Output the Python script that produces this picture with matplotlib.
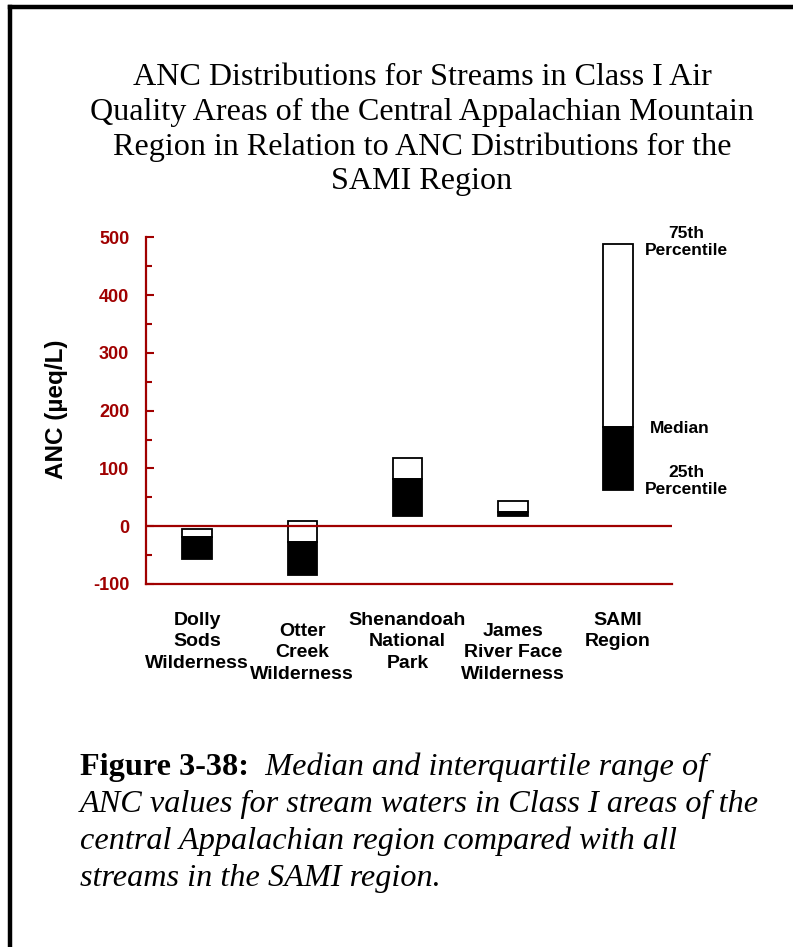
import matplotlib
matplotlib.use("Agg")
import matplotlib.pyplot as plt
from matplotlib.lines import Line2D
from matplotlib.ticker import MultipleLocator

plt.rcParams["axes.unicode_minus"] = False

# ---- data ----
categories = ["Dolly\nSods\nWilderness", "Otter\nCreek\nWilderness",
              "Shenandoah\nNational\nPark", "James\nRiver Face\nWilderness",
              "SAMI\nRegion"]
p25 = [-57, -85, 17, 18, 62]
median = [-18, -28, 81, 25, 171]
p75 = [-5, 9, 118, 43, 488]
yticks = [-100, 0, 100, 200, 300, 400, 500]

title = ("ANC Distributions for Streams in Class I Air\n"
         "Quality Areas of the Central Appalachian Mountain\n"
         "Region in Relation to ANC Distributions for the\n"
         "SAMI Region")
cap_bold = "Figure 3-38:"
cap_lines = ["  Median and interquartile range of",
             "ANC values for stream waters in Class I areas of the",
             "central Appalachian region compared with all",
             "streams in the SAMI region."]

RED = "#A00000"
W, H = 793, 947
fig = plt.figure(figsize=(W / 100, H / 100), dpi=100)


def fx(x):
    return x / W


def fy(y):
    return 1 - y / H


# border (left and top only)
fig.add_artist(Line2D([fx(10.3), fx(10.3)], [fy(7), fy(H + 5)], color="black", lw=3.2,
                      transform=fig.transFigure, solid_capstyle="projecting"))
fig.add_artist(Line2D([fx(10.3), fx(W + 5)], [fy(7), fy(7)], color="black", lw=3.2,
                      transform=fig.transFigure, solid_capstyle="projecting"))

# title
fig.text(fx(422), fy(63), title, ha="center", va="top", family="Liberation Serif",
         fontsize=23.1, linespacing=1.25, multialignment="center")

# axes
ax_top, ax_bot, ax_l, ax_r = 237.3, 584, 146, 672
ax = fig.add_axes([fx(ax_l), fy(ax_bot), (ax_r - ax_l) / W, (ax_bot - ax_top) / H])
x = list(range(len(categories)))
ax.bar(x, [a - b for a, b in zip(p75, median)], bottom=median, width=0.28,
       color="white", edgecolor="black", lw=1.3, zorder=3)
ax.bar(x, [a - b for a, b in zip(median, p25)], bottom=p25, width=0.28,
       color="black", edgecolor="black", lw=1.3, zorder=3)
ax.axhline(0, color=RED, lw=1.6, zorder=4)
ax.set_xlim(-0.485, 4.513)
ax.set_ylim(-100, 500)
ax.set_yticks(yticks)
ax.yaxis.set_minor_locator(MultipleLocator(50))
ax.set_xticks([])
for s in ["top", "right"]:
    ax.spines[s].set_visible(False)
for s in ["left", "bottom"]:
    ax.spines[s].set_color(RED)
    ax.spines[s].set_linewidth(1.6)
ax.tick_params(axis="y", which="major", direction="in", length=5.5, width=1.5,
               color=RED, labelcolor=RED, pad=12)
ax.tick_params(axis="y", which="minor", direction="in", length=4, width=1.5, color=RED)
for lab in ax.get_yticklabels():
    lab.set_family("Liberation Sans")
    lab.set_fontweight("bold")
    lab.set_fontsize(13)

# category labels (staggered)
label_tops = [612, 623, 612, 623, 612]
for xi, lab, t in zip(x, categories, label_tops):
    ax.text(xi, (ax_bot - t) / (ax_bot - ax_top), lab, transform=ax.get_xaxis_transform(),
            ha="center", va="top", family="Liberation Sans", fontweight="bold",
            fontsize=14, linespacing=1.34, multialignment="center")

fig.text(fx(57), fy(409), "ANC (µeq/L)", rotation=90, ha="center", va="center",
         family="Liberation Sans", fontweight="bold", fontsize=17.5)

# right-side annotations
ann_kw = dict(ha="center", family="Liberation Sans", fontweight="bold",
              fontsize=12.5, linespacing=1.2, multialignment="center")
fig.text(fx(686), fy(226), "75th\nPercentile", va="top", **ann_kw)
fig.text(fx(680), fy(428), "Median", va="center", **ann_kw)
fig.text(fx(686), fy(465), "25th\nPercentile", va="top", **ann_kw)

# caption
baselines = [775, 812, 849, 886]
fig.canvas.draw()
r = fig.canvas.get_renderer()
tb = fig.text(fx(80), fy(baselines[0]), cap_bold, ha="left", va="baseline",
              family="Liberation Serif", fontweight="bold", fontsize=23.2)
bb = tb.get_window_extent(renderer=r)
fig.text(bb.x1 / W, fy(baselines[0]), cap_lines[0], ha="left", va="baseline",
         family="Liberation Serif", style="italic", fontsize=23.2)
for yb, line in zip(baselines[1:], cap_lines[1:]):
    fig.text(fx(80), fy(yb), line, ha="left", va="baseline",
             family="Liberation Serif", style="italic", fontsize=23.2)

fig.savefig("out.png", dpi=100)
